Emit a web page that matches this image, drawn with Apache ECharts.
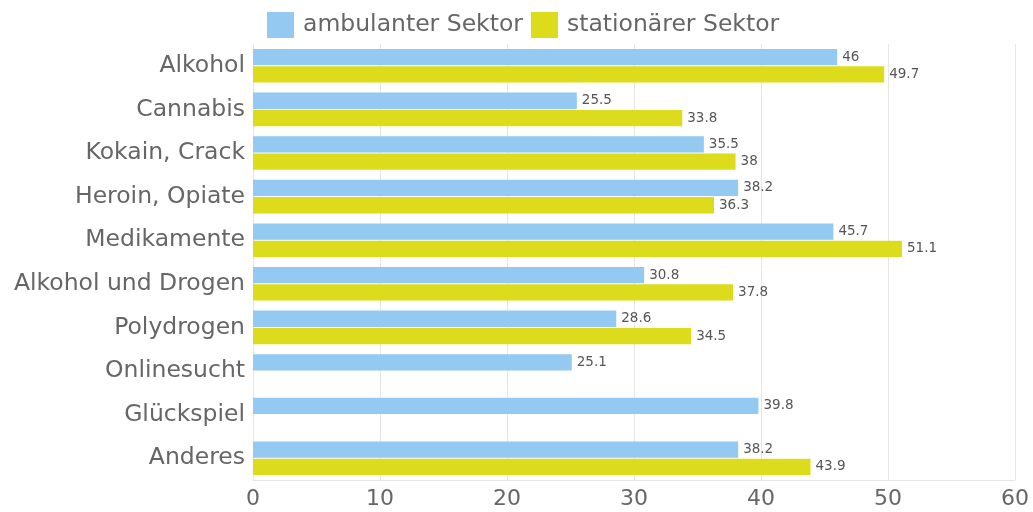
<!DOCTYPE html>
<html>
<head>
<meta charset="utf-8">
<script src="https://cdn.jsdelivr.net/npm/echarts@6/dist/echarts.min.js"></script>
<style>
  html, body { margin: 0; padding: 0; background: #fff; }
  #main { width: 1033px; height: 512px; }
</style>
</head>
<body>
<div id="main"></div>
<script>
// data
const categories = ['Alkohol', 'Cannabis', 'Kokain, Crack', 'Heroin, Opiate', 'Medikamente',
  'Alkohol und Drogen', 'Polydrogen', 'Onlinesucht', 'Glückspiel', 'Anderes'];
const ambulant = [46, 25.5, 35.5, 38.2, 45.7, 30.8, 28.6, 25.1, 39.8, 38.2];
const stationaer = [49.7, 33.8, 38, 36.3, 51.1, 37.8, 34.5, null, null, 43.9];
const xTicks = [0, 10, 20, 30, 40, 50, 60];

const FONT = 'DejaVu Sans';
const chart = echarts.init(document.getElementById('main'));
const labelStyle = {
  show: true,
  position: 'right',
  distance: 5,
  color: '#555',
  fontSize: 13.5,
  fontFamily: FONT
};
const option = {
  legend: {
    left: 262,
    top: 7,
    icon: 'rect',
    itemWidth: 27,
    itemHeight: 26,
    itemGap: 8,
    textStyle: { fontSize: 23.5, color: '#666', fontFamily: FONT, padding: [0, 0, 0, 4] },
    data: ['ambulanter Sektor', 'stationärer Sektor']
  },
  grid: { left: 253, right: 18, top: 44, bottom: 32 },
  xAxis: {
    type: 'value',
    min: xTicks[0],
    max: xTicks[xTicks.length - 1],
    interval: 10,
    axisLine: { show: true, lineStyle: { color: '#e6e6e6' } },
    axisTick: { show: false },
    axisLabel: { fontSize: 22, color: '#666', margin: 8, fontFamily: FONT },
    splitLine: { lineStyle: { color: '#e6e6e6' } }
  },
  yAxis: {
    type: 'category',
    inverse: true,
    data: categories,
    axisLine: { lineStyle: { color: '#e6e6e6' } },
    axisTick: { show: false },
    axisLabel: { fontSize: 23.5, color: '#666', margin: 8, fontFamily: FONT }
  },
  series: [
    {
      name: 'ambulanter Sektor',
      type: 'bar',
      data: ambulant,
      color: '#94c9f1',
      barGap: '6%',
      barCategoryGap: '23%',
      label: labelStyle
    },
    {
      name: 'stationärer Sektor',
      type: 'bar',
      data: stationaer,
      color: '#dcdc1c',
      label: labelStyle
    }
  ]
};
chart.setOption(option);
</script>
</body>
</html>
